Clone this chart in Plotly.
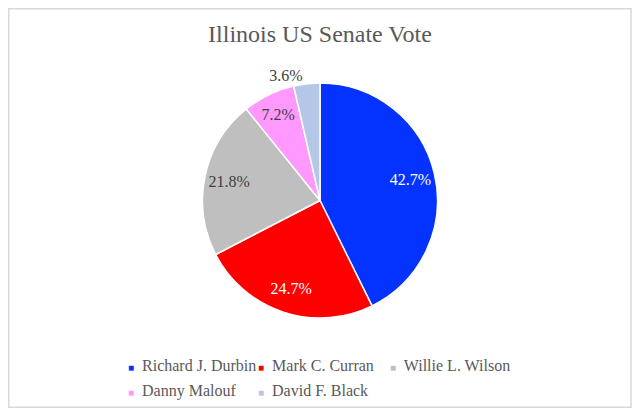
import plotly.graph_objects as go

candidates = ['Richard J. Durbin', 'Mark C. Curran', 'Willie L. Wilson', 'Danny Malouf', 'David F. Black']
vote_share = [42.7, 24.7, 21.8, 7.2, 3.6]
slice_colors = ['#0433FF', '#FF0000', '#BFBFBF', '#FF99FF', '#B4C7E7']
text_colors = ['white', 'white', '#404040', '#404040', '#404040']
text_positions = ['inside', 'inside', 'inside', 'inside', 'outside']

font = 'Liberation Serif'
pie_domain = dict(x=[0, 1], y=[0.225, 0.8125])

fig = go.Figure()
# the filled pie
fig.add_trace(go.Pie(
    labels=candidates, values=vote_share, sort=False, direction='clockwise', rotation=0,
    marker=dict(colors=slice_colors, line=dict(color='white', width=1.5)),
    textinfo='none', domain=pie_domain, showlegend=False, hoverinfo='label+percent',
))
# transparent ring on top just to push the labels out toward the rim (excel style)
fig.add_trace(go.Pie(
    labels=candidates, values=vote_share, sort=False, direction='clockwise', rotation=0,
    hole=0.58, marker=dict(colors=['rgba(0,0,0,0)'] * len(candidates), line=dict(width=0)),
    texttemplate='%{value:.1f}%', textposition=text_positions,
    textfont=dict(family=font, size=16, color=text_colors),
    insidetextfont=dict(family=font, size=16, color=text_colors),
    outsidetextfont=dict(family=font, size=16, color='#404040'),
    insidetextorientation='horizontal',
    domain=pie_domain, showlegend=False, hoverinfo='skip',
))

# one tiny legend per entry so the grid matches the original (3 + 2);
# the swatch is a small square glyph since plotly's own symbol sits too far from the text
legend_spots = [(80, 357), (210, 357), (342, 357), (80, 382), (210, 382)]
for i, (name, col) in enumerate(zip(candidates, slice_colors)):
    swatch = f'<span style="color:{col};font-size:10px">■</span>\u00a0 '
    fig.add_trace(go.Scatter(x=[None], y=[None], mode='markers', name=swatch + name,
                             legend='legend' if i == 0 else f'legend{i + 1}',
                             marker=dict(symbol='square', size=1, color='rgba(0,0,0,0)')))

W, H = 624, 400
legends = {}
for i, (lx, ly) in enumerate(legend_spots):
    key = 'legend' if i == 0 else f'legend{i + 1}'
    legends[key] = dict(x=lx / W, y=1 - ly / H, xanchor='left', yanchor='middle',
                        itemwidth=30, bgcolor='rgba(0,0,0,0)',
                        font=dict(family=font, size=16, color='#595959'))

fig.update_xaxes(visible=False)
fig.update_yaxes(visible=False)
fig.update_layout(
    width=W, height=H,
    font=dict(family=font),
    margin=dict(l=0, r=0, t=0, b=0, autoexpand=False),
    paper_bgcolor='white', plot_bgcolor='white',
    title=dict(text='Illinois US Senate Vote', x=0.5, xanchor='center', y=0.936, yanchor='middle',
               font=dict(family=font, size=24, color='#595959')),
    shapes=[dict(type='rect', xref='paper', yref='paper', x0=0.0012, x1=0.9985, y0=0.002, y1=0.998,
                 line=dict(color='#D9D9D9', width=1.5))],
    **legends,
)

fig.write_html('out.html')
